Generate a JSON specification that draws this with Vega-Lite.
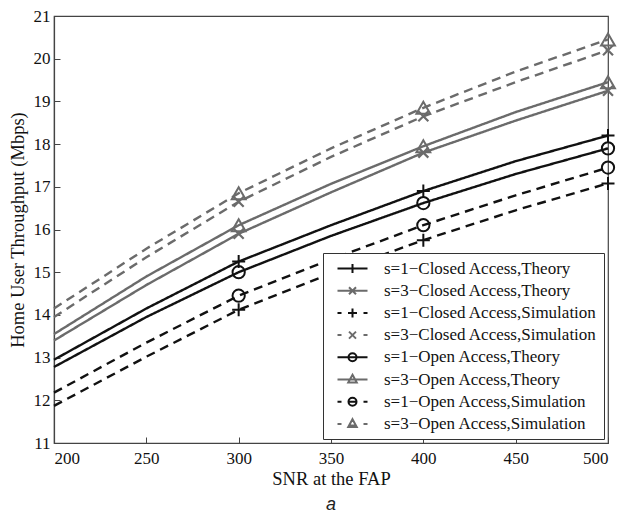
{
  "$schema": "https://vega.github.io/schema/vega-lite/v6.json",
  "width": 554,
  "height": 427,
  "autosize": {"type": "none"},
  "padding": {"left": 54, "top": 16, "right": 13, "bottom": 74},
  "background": "white",
  "title": {"text": "a", "orient": "bottom", "anchor": "middle", "font": "Liberation Sans", "fontStyle": "italic", "fontSize": 18, "fontWeight": "normal", "color": "#222", "offset": 8},
  "data": {"values": [
    {"series": "s=1−Closed Access,Theory", "snr": 200, "thr": 12.95},
    {"series": "s=1−Closed Access,Theory", "snr": 250, "thr": 14.15},
    {"series": "s=1−Closed Access,Theory", "snr": 300, "thr": 15.25},
    {"series": "s=1−Closed Access,Theory", "snr": 350, "thr": 16.1},
    {"series": "s=1−Closed Access,Theory", "snr": 400, "thr": 16.9},
    {"series": "s=1−Closed Access,Theory", "snr": 450, "thr": 17.6},
    {"series": "s=1−Closed Access,Theory", "snr": 500, "thr": 18.2},
    {"series": "s=3−Closed Access,Theory", "snr": 200, "thr": 13.4},
    {"series": "s=3−Closed Access,Theory", "snr": 250, "thr": 14.7},
    {"series": "s=3−Closed Access,Theory", "snr": 300, "thr": 15.9},
    {"series": "s=3−Closed Access,Theory", "snr": 350, "thr": 16.87},
    {"series": "s=3−Closed Access,Theory", "snr": 400, "thr": 17.8},
    {"series": "s=3−Closed Access,Theory", "snr": 450, "thr": 18.55},
    {"series": "s=3−Closed Access,Theory", "snr": 500, "thr": 19.25},
    {"series": "s=1−Closed Access,Simulation", "snr": 200, "thr": 11.87},
    {"series": "s=1−Closed Access,Simulation", "snr": 250, "thr": 13.02},
    {"series": "s=1−Closed Access,Simulation", "snr": 300, "thr": 14.12},
    {"series": "s=1−Closed Access,Simulation", "snr": 350, "thr": 14.97},
    {"series": "s=1−Closed Access,Simulation", "snr": 400, "thr": 15.75},
    {"series": "s=1−Closed Access,Simulation", "snr": 450, "thr": 16.45},
    {"series": "s=1−Closed Access,Simulation", "snr": 500, "thr": 17.08},
    {"series": "s=3−Closed Access,Simulation", "snr": 200, "thr": 13.95},
    {"series": "s=3−Closed Access,Simulation", "snr": 250, "thr": 15.35},
    {"series": "s=3−Closed Access,Simulation", "snr": 300, "thr": 16.65},
    {"series": "s=3−Closed Access,Simulation", "snr": 350, "thr": 17.7},
    {"series": "s=3−Closed Access,Simulation", "snr": 400, "thr": 18.65},
    {"series": "s=3−Closed Access,Simulation", "snr": 450, "thr": 19.45},
    {"series": "s=3−Closed Access,Simulation", "snr": 500, "thr": 20.2},
    {"series": "s=1−Open Access,Theory", "snr": 200, "thr": 12.78},
    {"series": "s=1−Open Access,Theory", "snr": 250, "thr": 13.95},
    {"series": "s=1−Open Access,Theory", "snr": 300, "thr": 15.0},
    {"series": "s=1−Open Access,Theory", "snr": 350, "thr": 15.85},
    {"series": "s=1−Open Access,Theory", "snr": 400, "thr": 16.62},
    {"series": "s=1−Open Access,Theory", "snr": 450, "thr": 17.3},
    {"series": "s=1−Open Access,Theory", "snr": 500, "thr": 17.9},
    {"series": "s=3−Open Access,Theory", "snr": 200, "thr": 13.55},
    {"series": "s=3−Open Access,Theory", "snr": 250, "thr": 14.9},
    {"series": "s=3−Open Access,Theory", "snr": 300, "thr": 16.1},
    {"series": "s=3−Open Access,Theory", "snr": 350, "thr": 17.07},
    {"series": "s=3−Open Access,Theory", "snr": 400, "thr": 17.95},
    {"series": "s=3−Open Access,Theory", "snr": 450, "thr": 18.75},
    {"series": "s=3−Open Access,Theory", "snr": 500, "thr": 19.45},
    {"series": "s=1−Open Access,Simulation", "snr": 200, "thr": 12.18},
    {"series": "s=1−Open Access,Simulation", "snr": 250, "thr": 13.35},
    {"series": "s=1−Open Access,Simulation", "snr": 300, "thr": 14.45},
    {"series": "s=1−Open Access,Simulation", "snr": 350, "thr": 15.3},
    {"series": "s=1−Open Access,Simulation", "snr": 400, "thr": 16.1},
    {"series": "s=1−Open Access,Simulation", "snr": 450, "thr": 16.8},
    {"series": "s=1−Open Access,Simulation", "snr": 500, "thr": 17.45},
    {"series": "s=3−Open Access,Simulation", "snr": 200, "thr": 14.15},
    {"series": "s=3−Open Access,Simulation", "snr": 250, "thr": 15.55},
    {"series": "s=3−Open Access,Simulation", "snr": 300, "thr": 16.85},
    {"series": "s=3−Open Access,Simulation", "snr": 350, "thr": 17.9},
    {"series": "s=3−Open Access,Simulation", "snr": 400, "thr": 18.85},
    {"series": "s=3−Open Access,Simulation", "snr": 450, "thr": 19.7},
    {"series": "s=3−Open Access,Simulation", "snr": 500, "thr": 20.45}
  ]},
  "config": {
    "view": {"stroke": "#444", "strokeWidth": 1.2},
    "font": "Liberation Serif",
    "axis": {"labelFont": "Liberation Serif", "labelFontSize": 17, "labelColor": "#111", "titleFont": "Liberation Serif", "titleFontSize": 18.5, "titleFontWeight": "normal", "titleColor": "#111", "grid": false, "domainColor": "#444", "domainWidth": 1.2, "tickColor": "#444", "tickWidth": 1, "tickSize": -6, "labelPadding": 10},
    "legend": {"orient": "bottom-right", "offset": 4, "padding": 7, "strokeColor": "#333", "fillColor": "white", "labelFont": "Liberation Serif", "labelFontSize": 17, "labelColor": "#111", "rowPadding": 4.2, "symbolOffset": 14, "labelOffset": 23, "symbolStrokeWidth": 2, "labelLimit": 400}
  },
  "encoding": {
    "x": {"field": "snr", "type": "quantitative", "scale": {"domain": [200, 500], "nice": false, "zero": false}, "axis": {"title": "SNR at the FAP", "values": [200, 250, 300, 350, 400, 450, 500], "labelPadding": 13, "titlePadding": 3}},
    "y": {"field": "thr", "type": "quantitative", "scale": {"domain": [11, 21], "nice": false, "zero": false}, "axis": {"title": "Home User Throughput (Mbps)", "values": [11, 12, 13, 14, 15, 16, 17, 18, 19, 20, 21], "titlePadding": 6}},
    "color": {"field": "series", "type": "nominal", "legend": {"title": null}, "scale": {
      "domain": ["s=1−Closed Access,Theory", "s=3−Closed Access,Theory", "s=1−Closed Access,Simulation", "s=3−Closed Access,Simulation", "s=1−Open Access,Theory", "s=3−Open Access,Theory", "s=1−Open Access,Simulation", "s=3−Open Access,Simulation"],
      "range": ["#111111", "#6b6b6b", "#111111", "#6b6b6b", "#111111", "#6b6b6b", "#111111", "#6b6b6b"]}}
  },
  "layer": [
    {
      "mark": {"type": "line", "strokeWidth": 2.4},
      "encoding": {
        "strokeDash": {"field": "series", "type": "nominal", "legend": null, "scale": {
          "domain": ["s=3−Open Access,Simulation", "s=1−Open Access,Simulation", "s=3−Open Access,Theory", "s=1−Open Access,Theory", "s=3−Closed Access,Simulation", "s=1−Closed Access,Simulation", "s=3−Closed Access,Theory", "s=1−Closed Access,Theory"],
          "range": [[9, 6], [9, 6], [1, 0], [1, 0], [9, 6], [9, 6], [1, 0], [1, 0]]}}
      }
    },
    {
      "transform": [{"filter": "indexof(datum.series, 's=1−Closed') == 0 && datum.snr >= 300 && datum.snr % 100 == 0"}],
      "mark": {"type": "point", "shape": "M-1,0H1M0,-1V1", "size": 169, "filled": false, "strokeWidth": 2, "opacity": 1}
    },
    {
      "transform": [{"filter": "indexof(datum.series, 's=3−Closed') == 0 && datum.snr >= 300 && datum.snr % 100 == 0"}],
      "mark": {"type": "point", "shape": "M-1,-1L1,1M-1,1L1,-1", "size": 100, "filled": false, "strokeWidth": 2.2, "opacity": 1}
    },
    {
      "transform": [{"filter": "indexof(datum.series, 's=1−Open') == 0 && datum.snr >= 300 && datum.snr % 100 == 0"}],
      "mark": {"type": "point", "shape": "circle", "size": 150, "filled": false, "strokeWidth": 2, "opacity": 1}
    },
    {
      "transform": [{"filter": "indexof(datum.series, 's=3−Open') == 0 && datum.snr >= 300 && datum.snr % 100 == 0"}],
      "mark": {"type": "point", "shape": "triangle-up", "size": 190, "filled": false, "strokeWidth": 2, "opacity": 1}
    },
    {
      "transform": [{"filter": "false"}],
      "mark": {"type": "point", "size": 225, "filled": false, "strokeWidth": 2, "opacity": 1},
      "encoding": {
        "shape": {"field": "series", "type": "nominal", "legend": {"title": null}, "scale": {
          "domain": ["s=1−Closed Access,Theory", "s=3−Closed Access,Theory", "s=1−Closed Access,Simulation", "s=3−Closed Access,Simulation", "s=1−Open Access,Theory", "s=3−Open Access,Theory", "s=1−Open Access,Simulation", "s=3−Open Access,Simulation"],
          "range": [
            "M-3,0H3M0,-0.9V0.9",
            "M-3,0H3M-0.7,-0.7L0.7,0.7M-0.7,0.7L0.7,-0.7",
            "M-3,0H-2.2M2.2,0H3M-0.9,0H0.9M0,-0.9V0.9",
            "M-3,0H-2.2M2.2,0H3M-0.7,-0.7L0.7,0.7M-0.7,0.7L0.7,-0.7",
            "M-3,0H3M0.8,0A0.8,0.8 0 1,1 -0.8,0A0.8,0.8 0 1,1 0.8,0",
            "M-3,0H3M0,-0.95L0.85,0.6L-0.85,0.6Z",
            "M-3,0H-2.2M2.2,0H3M-0.8,0H0.8M0.8,0A0.8,0.8 0 1,1 -0.8,0A0.8,0.8 0 1,1 0.8,0",
            "M-3,0H-2.2M2.2,0H3M-0.6,0.3H0.6M0,-0.95L0.85,0.6L-0.85,0.6Z"
          ]}}
      }
    }
  ]
}
